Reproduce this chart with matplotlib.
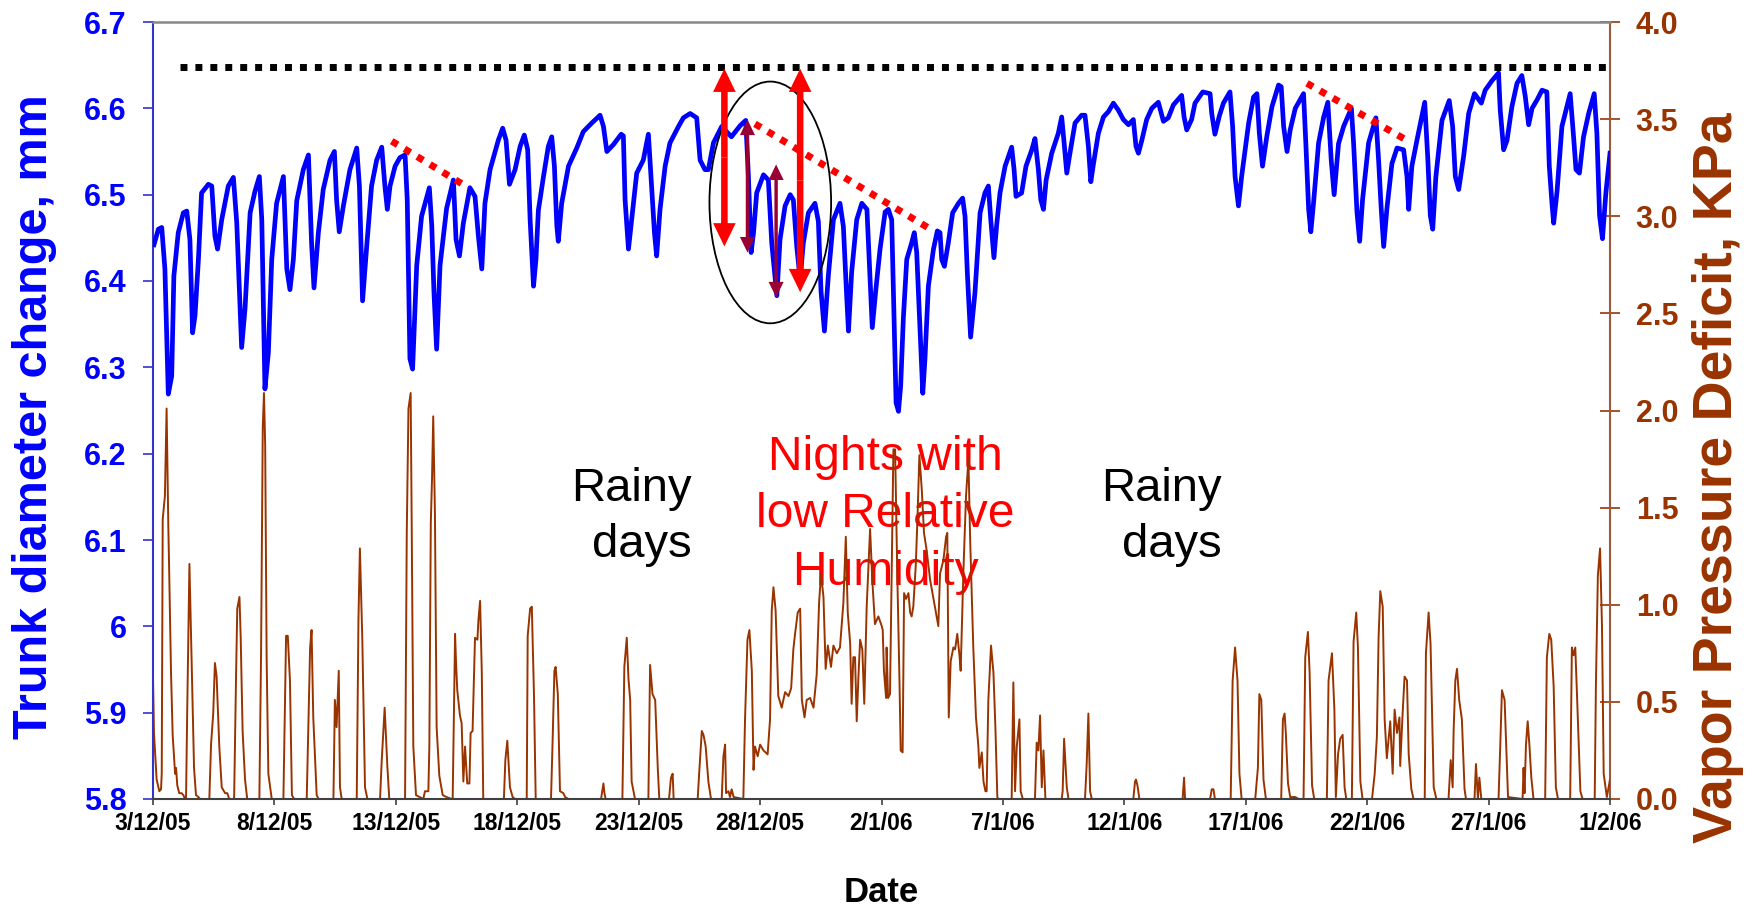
import numpy as np
import matplotlib
matplotlib.use("Agg")
import matplotlib.pyplot as plt
from matplotlib.patches import Ellipse

plt.rcParams['font.family'] = ['Liberation Sans', 'DejaVu Sans']

# days counted from 3/12/05, trunk diameter in mm
trunk_points = [
    (0.04, 6.442), (0.22, 6.460), (0.36, 6.462), (0.49, 6.414), (0.63, 6.269), (0.77, 6.290),
    (0.86, 6.406), (1.04, 6.456), (1.25, 6.479), (1.39, 6.481), (1.52, 6.448), (1.63, 6.340),
    (1.73, 6.360), (1.87, 6.425), (2.00, 6.502), (2.28, 6.512), (2.42, 6.510), (2.55, 6.452),
    (2.66, 6.437), (2.83, 6.471), (3.10, 6.510), (3.31, 6.520), (3.45, 6.467), (3.65, 6.323),
    (3.79, 6.368), (4.00, 6.479), (4.20, 6.504), (4.38, 6.521), (4.48, 6.471), (4.61, 6.275),
    (4.75, 6.317), (4.89, 6.425), (5.09, 6.490), (5.37, 6.521), (5.51, 6.414), (5.64, 6.390),
    (5.78, 6.425), (5.92, 6.493), (6.19, 6.529), (6.40, 6.546), (6.53, 6.444), (6.63, 6.392),
    (6.81, 6.456), (7.01, 6.506), (7.29, 6.540), (7.47, 6.550), (7.56, 6.494), (7.67, 6.457),
    (7.84, 6.487), (8.11, 6.529), (8.39, 6.554), (8.50, 6.510), (8.63, 6.377), (8.80, 6.440),
    (9.00, 6.510), (9.21, 6.540), (9.42, 6.555), (9.55, 6.510), (9.65, 6.483), (9.76, 6.510),
    (9.97, 6.533), (10.17, 6.543), (10.38, 6.546), (10.47, 6.494), (10.58, 6.310), (10.69, 6.298),
    (10.86, 6.418), (11.06, 6.475), (11.38, 6.508), (11.48, 6.464), (11.57, 6.387), (11.68, 6.321),
    (11.82, 6.418), (12.09, 6.484), (12.37, 6.517), (12.48, 6.448), (12.62, 6.429), (12.78, 6.467),
    (13.05, 6.508), (13.26, 6.498), (13.40, 6.452), (13.54, 6.414), (13.67, 6.490), (13.88, 6.529),
    (14.22, 6.563), (14.40, 6.577), (14.54, 6.563), (14.68, 6.512), (14.91, 6.529), (15.12, 6.556),
    (15.29, 6.569), (15.43, 6.552), (15.53, 6.471), (15.67, 6.394), (15.77, 6.425), (15.87, 6.482),
    (16.08, 6.521), (16.28, 6.556), (16.42, 6.567), (16.53, 6.533), (16.63, 6.464), (16.69, 6.446),
    (16.83, 6.490), (17.11, 6.533), (17.45, 6.554), (17.72, 6.573), (18.07, 6.583), (18.41, 6.592),
    (18.55, 6.579), (18.69, 6.550), (18.96, 6.558), (19.28, 6.570), (19.37, 6.568), (19.44, 6.494),
    (19.58, 6.437), (19.71, 6.471), (19.92, 6.525), (20.19, 6.540), (20.40, 6.570), (20.54, 6.506),
    (20.65, 6.456), (20.74, 6.429), (20.88, 6.483), (21.09, 6.533), (21.29, 6.560), (21.64, 6.579),
    (21.84, 6.589), (22.12, 6.594), (22.39, 6.589), (22.53, 6.540), (22.73, 6.529), (22.87, 6.529),
    (23.08, 6.560), (23.42, 6.579), (23.82, 6.567), (24.18, 6.580), (24.41, 6.586), (24.52, 6.521),
    (24.63, 6.433), (24.73, 6.456), (24.86, 6.502), (25.14, 6.523), (25.34, 6.517), (25.48, 6.444),
    (25.69, 6.383), (25.82, 6.448), (26.03, 6.487), (26.24, 6.500), (26.37, 6.494), (26.51, 6.440),
    (26.65, 6.402), (26.78, 6.444), (26.99, 6.479), (27.26, 6.490), (27.40, 6.469), (27.51, 6.388),
    (27.65, 6.342), (27.81, 6.406), (28.02, 6.471), (28.29, 6.490), (28.43, 6.463), (28.57, 6.380),
    (28.64, 6.342), (28.77, 6.410), (28.98, 6.471), (29.19, 6.490), (29.40, 6.483), (29.53, 6.402),
    (29.62, 6.346), (29.76, 6.388), (29.94, 6.437), (30.15, 6.480), (30.28, 6.483), (30.42, 6.471),
    (30.49, 6.388), (30.60, 6.259), (30.70, 6.249), (30.79, 6.279), (30.90, 6.357), (31.04, 6.425),
    (31.24, 6.444), (31.35, 6.456), (31.45, 6.433), (31.59, 6.342), (31.70, 6.270), (31.79, 6.310),
    (31.93, 6.394), (32.14, 6.437), (32.30, 6.458), (32.41, 6.456), (32.48, 6.425), (32.59, 6.417),
    (32.75, 6.444), (32.93, 6.479), (33.17, 6.490), (33.34, 6.496), (33.44, 6.475), (33.54, 6.406),
    (33.67, 6.335), (33.85, 6.387), (34.06, 6.479), (34.26, 6.502), (34.40, 6.510), (34.50, 6.471),
    (34.63, 6.427), (34.74, 6.464), (34.88, 6.502), (35.09, 6.533), (35.36, 6.555), (35.46, 6.529),
    (35.54, 6.498), (35.77, 6.502), (35.95, 6.533), (36.19, 6.552), (36.32, 6.565), (36.46, 6.529),
    (36.56, 6.494), (36.67, 6.483), (36.78, 6.517), (37.01, 6.548), (37.28, 6.571), (37.42, 6.590),
    (37.52, 6.560), (37.63, 6.525), (37.76, 6.548), (37.97, 6.583), (38.24, 6.592), (38.38, 6.592),
    (38.52, 6.556), (38.62, 6.515), (38.73, 6.536), (38.93, 6.571), (39.14, 6.590), (39.34, 6.596),
    (39.55, 6.606), (39.75, 6.598), (39.96, 6.587), (40.17, 6.581), (40.37, 6.587), (40.48, 6.556),
    (40.58, 6.548), (40.72, 6.563), (40.92, 6.587), (41.13, 6.600), (41.40, 6.607), (41.54, 6.592),
    (41.61, 6.585), (41.81, 6.589), (42.02, 6.604), (42.36, 6.615), (42.46, 6.590), (42.57, 6.575),
    (42.77, 6.587), (42.91, 6.606), (43.23, 6.619), (43.53, 6.617), (43.60, 6.594), (43.73, 6.570),
    (43.91, 6.591), (44.08, 6.606), (44.35, 6.619), (44.46, 6.579), (44.56, 6.521), (44.70, 6.487),
    (44.83, 6.521), (45.12, 6.583), (45.32, 6.613), (45.46, 6.617), (45.56, 6.571), (45.69, 6.533),
    (45.87, 6.568), (46.08, 6.602), (46.35, 6.627), (46.46, 6.625), (46.56, 6.579), (46.70, 6.550),
    (46.83, 6.575), (47.04, 6.600), (47.38, 6.617), (47.48, 6.556), (47.59, 6.483), (47.68, 6.457),
    (47.79, 6.490), (48.00, 6.560), (48.21, 6.590), (48.38, 6.607), (48.52, 6.540), (48.64, 6.500),
    (48.82, 6.559), (49.03, 6.579), (49.35, 6.600), (49.44, 6.560), (49.58, 6.480), (49.69, 6.446),
    (49.81, 6.494), (50.06, 6.560), (50.36, 6.589), (50.47, 6.540), (50.58, 6.483), (50.68, 6.440),
    (50.81, 6.483), (51.02, 6.536), (51.23, 6.554), (51.50, 6.552), (51.64, 6.521), (51.71, 6.483),
    (51.84, 6.533), (52.05, 6.563), (52.37, 6.607), (52.50, 6.540), (52.60, 6.476), (52.70, 6.460),
    (52.83, 6.521), (53.08, 6.586), (53.38, 6.609), (53.52, 6.579), (53.63, 6.521), (53.77, 6.506),
    (53.97, 6.544), (54.18, 6.594), (54.42, 6.617), (54.70, 6.606), (54.86, 6.621), (55.14, 6.632),
    (55.41, 6.641), (55.48, 6.598), (55.62, 6.552), (55.76, 6.563), (55.96, 6.602), (56.17, 6.629),
    (56.37, 6.638), (56.51, 6.614), (56.65, 6.581), (56.79, 6.600), (57.00, 6.610), (57.20, 6.621),
    (57.40, 6.619), (57.50, 6.533), (57.61, 6.490), (57.68, 6.467), (57.82, 6.504), (58.02, 6.579),
    (58.36, 6.617), (58.50, 6.567), (58.60, 6.529), (58.74, 6.525), (58.91, 6.567), (59.12, 6.594),
    (59.35, 6.617), (59.46, 6.571), (59.57, 6.476), (59.69, 6.449), (59.83, 6.502), (60.00, 6.548),
]

# vapor pressure deficit, KPa
vpd_points = [
    (0.00, 0.62), (0.04, 0.34), (0.15, 0.10), (0.26, 0.04), (0.33, 0.05), (0.36, 0.13), (0.40, 1.44),
    (0.49, 1.56), (0.56, 2.01), (0.63, 1.41), (0.67, 1.15), (0.74, 0.66), (0.81, 0.33), (0.91, 0.13),
    (0.95, 0.16), (1.00, 0.07), (1.08, 0.03), (1.18, 0.03), (1.25, 0.02), (1.32, 0.00), (1.36, 0.00),
    (1.41, 0.46), (1.50, 1.21), (1.55, 0.94), (1.63, 0.53), (1.69, 0.16), (1.77, 0.02), (1.87, 0.01),
    (1.94, 0.00), (2.32, 0.00), (2.39, 0.28), (2.48, 0.44), (2.55, 0.70), (2.62, 0.63), (2.73, 0.27),
    (2.83, 0.06), (2.97, 0.03), (3.06, 0.03), (3.14, 0.00), (3.34, 0.00), (3.42, 0.63), (3.47, 0.98),
    (3.56, 1.04), (3.61, 0.84), (3.69, 0.35), (3.79, 0.10), (3.88, 0.00), (4.38, 0.00), (4.45, 0.75),
    (4.52, 1.91), (4.57, 2.09), (4.62, 1.82), (4.68, 0.72), (4.75, 0.13), (4.89, 0.00), (5.37, 0.00),
    (5.44, 0.54), (5.48, 0.84), (5.55, 0.84), (5.64, 0.61), (5.72, 0.02), (5.81, 0.00), (6.33, 0.00),
    (6.41, 0.44), (6.47, 0.78), (6.53, 0.87), (6.60, 0.42), (6.74, 0.02), (6.82, 0.00), (7.43, 0.00),
    (7.49, 0.51), (7.56, 0.37), (7.65, 0.66), (7.70, 0.06), (7.77, 0.00), (8.39, 0.00), (8.46, 0.92),
    (8.52, 1.29), (8.62, 0.82), (8.73, 0.06), (8.83, 0.00), (9.35, 0.00), (9.42, 0.20), (9.54, 0.47),
    (9.65, 0.17), (9.73, 0.00), (10.38, 0.00), (10.45, 1.37), (10.52, 2.01), (10.61, 2.09), (10.65, 1.47),
    (10.72, 0.27), (10.83, 0.02), (11.13, 0.00), (11.20, 0.04), (11.34, 0.04), (11.38, 0.27), (11.44, 1.42),
    (11.49, 1.65), (11.54, 1.97), (11.61, 1.47), (11.68, 0.37), (11.79, 0.12), (11.93, 0.02), (12.09, 0.01),
    (12.30, 0.00), (12.34, 0.00), (12.44, 0.85), (12.48, 0.70), (12.53, 0.56), (12.64, 0.43), (12.71, 0.39),
    (12.78, 0.09), (12.85, 0.27), (12.94, 0.08), (13.03, 0.08), (13.08, 0.34), (13.16, 0.35), (13.26, 0.83),
    (13.36, 0.82), (13.40, 0.92), (13.47, 1.02), (13.54, 0.65), (13.60, 0.00), (14.45, 0.00), (14.51, 0.20),
    (14.59, 0.30), (14.70, 0.06), (14.81, 0.01), (14.91, 0.00), (15.39, 0.00), (15.43, 0.84), (15.53, 0.98),
    (15.60, 0.99), (15.69, 0.53), (15.76, 0.00), (16.39, 0.00), (16.45, 0.27), (16.53, 0.66), (16.58, 0.68),
    (16.67, 0.54), (16.76, 0.04), (16.90, 0.03), (16.97, 0.01), (17.11, 0.00), (18.45, 0.00), (18.55, 0.08),
    (18.59, 0.03), (18.64, 0.00), (19.33, 0.00), (19.41, 0.68), (19.51, 0.83), (19.58, 0.62), (19.65, 0.51),
    (19.71, 0.09), (19.85, 0.00), (20.40, 0.00), (20.47, 0.69), (20.57, 0.54), (20.68, 0.51), (20.79, 0.15),
    (20.85, 0.00), (21.25, 0.00), (21.33, 0.11), (21.40, 0.13), (21.44, 0.00), (22.43, 0.00), (22.49, 0.13),
    (22.60, 0.35), (22.67, 0.33), (22.76, 0.27), (22.87, 0.09), (22.98, 0.00), (23.42, 0.00), (23.49, 0.22),
    (23.56, 0.28), (23.60, 0.03), (23.70, 0.04), (23.76, 0.01), (23.83, 0.05), (23.91, 0.01), (24.31, 0.00),
    (24.38, 0.41), (24.48, 0.82), (24.56, 0.87), (24.66, 0.66), (24.73, 0.15), (24.79, 0.27), (24.90, 0.22),
    (25.00, 0.28), (25.14, 0.25), (25.31, 0.23), (25.41, 0.41), (25.48, 0.97), (25.55, 1.09), (25.64, 0.97),
    (25.75, 0.53), (25.89, 0.47), (26.03, 0.55), (26.17, 0.53), (26.28, 0.57), (26.37, 0.77), (26.44, 0.85),
    (26.55, 0.96), (26.65, 0.98), (26.72, 0.51), (26.83, 0.42), (26.92, 0.51), (27.06, 0.52), (27.20, 0.47),
    (27.33, 0.64), (27.43, 1.01), (27.51, 1.16), (27.61, 1.04), (27.70, 0.67), (27.79, 0.79), (27.92, 0.68),
    (28.02, 0.79), (28.16, 0.75), (28.29, 0.78), (28.43, 1.01), (28.53, 1.35), (28.61, 0.96), (28.71, 0.80),
    (28.77, 0.49), (28.84, 0.73), (28.91, 0.73), (28.98, 0.40), (29.05, 0.63), (29.12, 0.82), (29.21, 0.77),
    (29.29, 0.49), (29.39, 0.99), (29.53, 1.39), (29.62, 1.13), (29.73, 0.90), (29.87, 0.94), (30.01, 0.89),
    (30.05, 0.87), (30.10, 0.66), (30.19, 0.52), (30.21, 0.78), (30.27, 0.52), (30.35, 0.54), (30.42, 1.16),
    (30.49, 1.80), (30.56, 1.80), (30.65, 1.16), (30.74, 0.61), (30.79, 0.25), (30.87, 0.24), (30.93, 1.06),
    (31.01, 1.03), (31.11, 1.06), (31.18, 0.96), (31.24, 0.94), (31.31, 0.99), (31.41, 1.20), (31.48, 1.44),
    (31.56, 1.77), (31.66, 1.59), (31.75, 1.37), (31.86, 1.28), (32.00, 1.13), (32.14, 1.03), (32.34, 0.89),
    (32.41, 1.16), (32.55, 1.23), (32.66, 1.35), (32.71, 1.37), (32.77, 0.42), (32.85, 0.71), (32.96, 0.78),
    (33.03, 0.77), (33.12, 0.85), (33.21, 0.74), (33.26, 0.66), (33.37, 1.16), (33.48, 1.56), (33.58, 1.75),
    (33.65, 1.34), (33.78, 0.78), (33.89, 0.42), (33.99, 0.27), (34.03, 0.16), (34.13, 0.24), (34.20, 0.09),
    (34.28, 0.04), (34.33, 0.04), (34.40, 0.51), (34.51, 0.79), (34.61, 0.65), (34.69, 0.37), (34.77, 0.01),
    (34.81, 0.00), (35.36, 0.00), (35.43, 0.60), (35.50, 0.04), (35.57, 0.27), (35.68, 0.41), (35.73, 0.04),
    (35.82, 0.00), (36.32, 0.00), (36.39, 0.29), (36.46, 0.25), (36.53, 0.43), (36.60, 0.06), (36.67, 0.25),
    (36.75, 0.00), (37.42, 0.00), (37.46, 0.04), (37.52, 0.31), (37.63, 0.06), (37.70, 0.00), (38.38, 0.00),
    (38.45, 0.18), (38.52, 0.44), (38.59, 0.04), (38.66, 0.00), (40.37, 0.00), (40.44, 0.09), (40.48, 0.10),
    (40.54, 0.07), (40.62, 0.00), (42.40, 0.00), (42.46, 0.11), (42.50, 0.00), (43.53, 0.00), (43.60, 0.05),
    (43.67, 0.05), (43.73, 0.00), (44.38, 0.00), (44.46, 0.61), (44.56, 0.78), (44.66, 0.61), (44.74, 0.13),
    (44.83, 0.00), (45.39, 0.00), (45.50, 0.16), (45.56, 0.54), (45.64, 0.51), (45.73, 0.10), (45.83, 0.00),
    (46.46, 0.00), (46.53, 0.41), (46.60, 0.44), (46.65, 0.34), (46.74, 0.08), (46.83, 0.01), (47.04, 0.01),
    (47.18, 0.00), (47.38, 0.00), (47.45, 0.73), (47.56, 0.86), (47.63, 0.65), (47.73, 0.07), (47.82, 0.00),
    (48.34, 0.00), (48.41, 0.61), (48.55, 0.75), (48.65, 0.46), (48.71, 0.01), (48.80, 0.23), (48.89, 0.31),
    (48.99, 0.33), (49.07, 0.06), (49.14, 0.00), (49.37, 0.00), (49.44, 0.81), (49.55, 0.96), (49.62, 0.78),
    (49.72, 0.09), (49.81, 0.00), (50.20, 0.00), (50.31, 0.13), (50.40, 0.32), (50.47, 0.83), (50.54, 1.07),
    (50.64, 0.99), (50.72, 0.41), (50.81, 0.21), (50.95, 0.40), (51.05, 0.13), (51.13, 0.46), (51.23, 0.34),
    (51.33, 0.42), (51.36, 0.17), (51.46, 0.44), (51.54, 0.63), (51.64, 0.61), (51.71, 0.23), (51.82, 0.05),
    (51.91, 0.00), (52.37, 0.00), (52.42, 0.75), (52.53, 0.96), (52.61, 0.80), (52.74, 0.06), (52.85, 0.00),
    (53.35, 0.00), (53.44, 0.20), (53.52, 0.06), (53.56, 0.35), (53.63, 0.61), (53.70, 0.67), (53.79, 0.51),
    (53.90, 0.41), (54.01, 0.05), (54.07, 0.00), (54.42, 0.00), (54.48, 0.18), (54.56, 0.00), (54.62, 0.11),
    (54.70, 0.00), (55.41, 0.00), (55.48, 0.27), (55.55, 0.56), (55.66, 0.51), (55.80, 0.01), (56.40, 0.00),
    (56.44, 0.16), (56.48, 0.03), (56.54, 0.28), (56.61, 0.40), (56.68, 0.28), (56.76, 0.11), (56.85, 0.00),
    (57.33, 0.00), (57.40, 0.73), (57.50, 0.85), (57.58, 0.82), (57.68, 0.58), (57.77, 0.06), (57.86, 0.00),
    (58.36, 0.00), (58.43, 0.78), (58.50, 0.74), (58.57, 0.78), (58.64, 0.54), (58.78, 0.04), (58.87, 0.00),
    (59.37, 0.00), (59.42, 0.59), (59.50, 1.15), (59.59, 1.29), (59.67, 0.89), (59.74, 0.13), (59.87, 0.01),
    (60.00, 0.10),
]

date_ticks = [0, 5, 10, 15, 20, 25, 30, 35, 40, 45, 50, 55, 60]
date_labels = ['3/12/05', '8/12/05', '13/12/05', '18/12/05', '23/12/05', '28/12/05', '2/1/06',
               '7/1/06', '12/1/06', '17/1/06', '22/1/06', '27/1/06', '1/2/06']
mm_ticks = [5.8, 5.9, 6.0, 6.1, 6.2, 6.3, 6.4, 6.5, 6.6, 6.7]
mm_labels = ['5.8', '5.9', '6', '6.1', '6.2', '6.3', '6.4', '6.5', '6.6', '6.7']
kpa_ticks = [0.0, 0.5, 1.0, 1.5, 2.0, 2.5, 3.0, 3.5, 4.0]
kpa_labels = ['0.0', '0.5', '1.0', '1.5', '2.0', '2.5', '3.0', '3.5', '4.0']

# annotations drawn over the trunk curve
max_level = 6.648
max_level_span = (1.1, 60.0)
decline_lines = [((9.83, 6.562), (12.99, 6.508)),
                 ((24.79, 6.582), (32.14, 6.458)),
                 ((47.52, 6.629), (51.57, 6.564))]
big_arrows = [(23.53, 6.440, 6.646), (26.65, 6.387, 6.646)]
small_arrows = [(24.48, 6.433, 6.587), (25.66, 6.381, 6.535)]
ellipse_center = (25.42, 6.491)
ellipse_size = (5.01, 0.28)

blue = '#0000FF'
brown = '#993300'

fig = plt.figure(figsize=(17.59, 9.08), dpi=100)
ax = fig.add_axes([153 / 1759, 1 - 799 / 908, 1457 / 1759, 777 / 908])
ax2 = ax.twinx()
ax.set_zorder(2)
ax2.set_zorder(1)
ax.patch.set_visible(False)

vd, vv = zip(*vpd_points)
ax2.plot(vd, vv, color=brown, lw=1.4, zorder=3)

td, tv = zip(*trunk_points)
ax.plot(td, tv, color=blue, lw=3.4, zorder=3)

ax.set_xlim(0, 60)
ax.set_ylim(5.8, 6.7)
ax2.set_ylim(0, 4)

ax.set_xticks(date_ticks, date_labels, fontweight='bold')
ax.set_yticks(mm_ticks, mm_labels, fontweight='bold')
ax2.set_yticks(kpa_ticks, kpa_labels, fontweight='bold')

ax.tick_params(axis='x', direction='out', length=4, width=1.2, color='#404040',
               labelsize=16.5, pad=5)
ax.tick_params(axis='y', direction='out', length=7, width=1.2, color='#3333cc',
               labelcolor=blue, labelsize=22, pad=12)
ax2.tick_params(axis='y', direction='inout', length=15, width=1.2, color=brown,
                labelcolor=brown, labelsize=22, pad=11)

for s in ['top', 'bottom', 'left', 'right']:
    ax2.spines[s].set_visible(False)
ax.spines['right'].set_visible(False)
ax2.spines['right'].set_visible(True)
ax2.spines['right'].set_color('#9c5a3c')
ax2.spines['right'].set_linewidth(1.5)
ax.spines['left'].set_color('#3333cc')
ax.spines['left'].set_linewidth(1.5)
ax.spines['top'].set_color('#888888')
ax.spines['top'].set_linewidth(1.8)
ax.spines['bottom'].set_color('#404040')
ax.spines['bottom'].set_linewidth(1.5)

ax.set_ylabel('Trunk diameter change, mm', color=blue, fontsize=35, fontweight='bold', va='center')
ax.yaxis.set_label_coords(-0.081, 0.492)
ax2.set_ylabel('Vapor Pressure Deficit, KPa', color=brown, fontsize=40, fontweight='bold', va='center')
ax2.yaxis.set_label_coords(1.074, 0.414)
ax.set_xlabel('Date', fontsize=25, fontweight='bold', va='center')
ax.xaxis.set_label_coords(0.5, -0.12)

# texts sit under the VPD line (y = baseline of the last line)
ax2.text(22.2, 1.248, 'Rainy\ndays', ha='right', va='baseline', multialignment='right',
         fontsize=34, linespacing=1.35, zorder=1)
ax2.text(44.03, 1.248, 'Rainy\ndays', ha='right', va='baseline', multialignment='right',
         fontsize=34, linespacing=1.35, zorder=1)
ax2.text(30.15, 1.103, 'Nights with\nlow Relative\nHumidity', ha='center', va='baseline',
         multialignment='center', color='red', fontsize=34.5, linespacing=1.36, zorder=1)

# dotted guide lines
ax.plot(max_level_span, [max_level, max_level], color='black', lw=5,
        linestyle=(0, (1, 1.15)), zorder=5)
for (x0, y0), (x1, y1) in decline_lines:
    ax.plot([x0, x1], [y0, y1], color='red', lw=5, linestyle=(0, (1, 1.15)), zorder=5)

ax.add_patch(Ellipse(ellipse_center, ellipse_size[0], ellipse_size[1], fill=False,
                     ec='black', lw=1.3, zorder=6))


def double_arrow(x, y0, y1, color, shaft, head_w, head_l):
    mid = (y0 + y1) / 2
    for end in (y0, y1):
        ax.arrow(x, mid, 0, end - mid, width=shaft, head_width=head_w, head_length=head_l,
                 length_includes_head=True, color=color, lw=0, zorder=7)


for x, y0, y1 in big_arrows:
    double_arrow(x, y0, y1, 'red', 0.27, 0.93, 0.027)
for x, y0, y1 in small_arrows:
    double_arrow(x, y0, y1, '#990033', 0.14, 0.62, 0.018)

fig.savefig('out.png', dpi=100)
